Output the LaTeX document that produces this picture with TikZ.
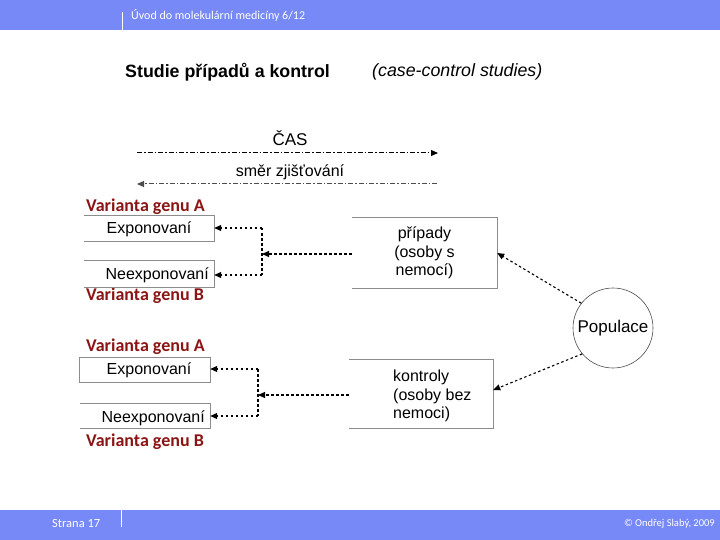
\documentclass[tikz,border=0pt]{standalone}
\usepackage{fontspec}
\setmainfont{Liberation Sans}
\newfontfamily\calfont{Carlito}
\usetikzlibrary{arrows.meta}
\definecolor{bar}{RGB}{119,136,247}
\definecolor{varred}{RGB}{139,20,20}
\definecolor{boxgray}{RGB}{140,140,140}
\tikzset{
  boxtext/.style={font=\fontsize{16}{19}\selectfont, inner sep=0pt},
  vartext/.style={font=\calfont\bfseries\fontsize{18}{20}\selectfont, text=varred, anchor=west, inner sep=0pt},
  frame/.style={draw=boxgray, line width=0.8pt},
  conn/.style={draw=black, line width=1.1pt, dash pattern=on 2.5pt off 2.5pt},
  tip/.style={-{Triangle[length=7pt,width=6pt]}},
  timeline/.style={line width=1pt, dash pattern=on 5pt off 2pt on 1.5pt off 2pt},
}
\begin{document}
\begin{tikzpicture}[x=1pt,y=-1pt]
\useasboundingbox (0,0) rectangle (720,540);
% header / footer
\fill[bar] (0,0) rectangle (720,30);
\fill[bar] (0,510) rectangle (720,540);
\draw[white, line width=0.8pt] (122,12) -- (122,30);
\draw[white, line width=0.8pt] (121,510) -- (121,527);
\node[text=white, anchor=west, inner sep=0pt, font=\calfont\fontsize{12}{14}\selectfont] (hdr) at (131,15) {Úvod do molekulární medicíny 6/12};
\node[text=white, anchor=west, inner sep=0pt, font=\calfont\fontsize{12.5}{14}\selectfont] (pg) at (52,523) {Strana 17};
\node[text=white, anchor=east, inner sep=0pt, font=\calfont\fontsize{10.5}{12}\selectfont] (cp) at (715,524) {© Ondřej Slabý, 2009};
% title
\node[anchor=west, inner sep=0pt, font=\bfseries\fontsize{17.8}{20}\selectfont] (title) at (125,72) {Studie případů a kontrol};
\node[anchor=west, inner sep=0pt, font=\itshape\fontsize{17.8}{20}\selectfont] (sub) at (372,72) {(case-control studies)};
% time arrows
\node[boxtext, font=\fontsize{17}{20}\selectfont] (cas) at (290,138) {ČAS};
\node[boxtext] (smer) at (290,172) {směr zjišťování};
\coordinate (t1a) at (137,153);
\coordinate (t1b) at (438,153);
\coordinate (t2a) at (437,184);
\coordinate (t2b) at (137,184);
\draw[timeline, -{Triangle[length=7pt,width=6pt]}] (t1a) -- (t1b);
\draw[timeline, draw=black!70, -{Triangle[length=7pt,width=6pt]}] (t2a) -- (t2b);
% group 1
\node[vartext] (va1) at (86,207) {Varianta genu A};
\node[vartext] (vb1) at (86,296) {Varianta genu B};
\node[minimum width=130pt, minimum height=25pt, inner sep=0pt] (e1) at (149,228.5) {};
\node[boxtext] at (149,229) {Exponovaní};
\draw[frame] (e1.north west) -- (e1.north east) -- (e1.south east) -- (e1.south west);
\node[minimum width=130pt, minimum height=26pt, inner sep=0pt] (n1) at (149,274) {};
\node[boxtext, anchor=east] at (209,275) {Neexponovaní};
\draw[frame] (n1.north west) -- (n1.north east) -- (n1.south east) -- (n1.south west);
\node[minimum width=145pt, minimum height=71pt, inner sep=0pt, align=center, font=\fontsize{16}{18.7}\selectfont] (cases) at (424.5,253) {případy\\(osoby s\\nemocí)};
\draw[frame] (cases.north west) -- (cases.north east) -- (cases.south east) -- (cases.south west);
\coordinate (j1) at (262,254);
\draw[conn, tip] (cases.west |- j1) -- (j1);
\draw[conn] (262,228) -- (262,275);
\draw[conn, tip] (262,228) -- (e1.east |- 0,228);
\draw[conn, tip] (262,275) -- (n1.east |- 0,275);
% group 2
\node[vartext] (va2) at (86,347) {Varianta genu A};
\node[vartext] (vb2) at (86,442) {Varianta genu B};
\node[minimum width=130pt, minimum height=24pt, inner sep=0pt] (e2) at (145,370) {};
\node[boxtext] at (149,370) {Exponovaní};
\draw[frame] (e2.north west) rectangle (e2.south east);
\node[minimum width=130pt, minimum height=24pt, inner sep=0pt] (n2) at (145,416) {};
\node[boxtext, anchor=east] at (205,418) {Neexponovaní};
\draw[frame] (n2.north west) -- (n2.north east) -- (n2.south east) -- (n2.south west);
\node[minimum width=144pt, minimum height=68pt, inner sep=0pt] (ctrl) at (421,394) {};
\node[anchor=north west, inner sep=0pt, align=left, font=\fontsize{16}{18.3}\selectfont] (ctxt) at (393,370) {kontroly\\(osoby bez\\nemoci)};
\draw[frame] (ctrl.north west) -- (ctrl.north east) -- (ctrl.south east) -- (ctrl.south west);
\coordinate (j2) at (258,395);
\draw[conn, tip] (ctrl.west |- j2) -- (j2);
\draw[conn] (258,369) -- (258,416);
\draw[conn, tip] (258,369) -- (e2.east |- 0,369);
\draw[conn, tip] (258,416) -- (n2.east |- 0,416);
% population
\node[circle, draw=black!70, line width=0.6pt, minimum size=80pt, inner sep=0pt, font=\fontsize{17}{20}\selectfont] (pop) at (613,328) {Populace};
\draw[conn, tip] (pop.142) -- (cases.east |- 0,253);
\draw[conn, tip] (pop.220) -- (ctrl.east |- 0,390);
\end{tikzpicture}
\end{document}
